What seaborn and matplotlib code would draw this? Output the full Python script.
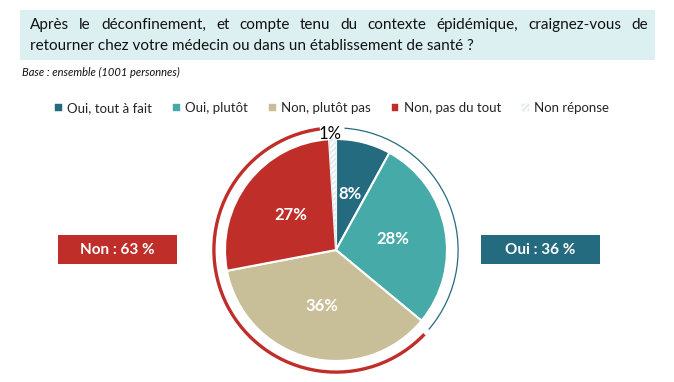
import matplotlib
matplotlib.use("Agg")
import matplotlib.pyplot as plt
from matplotlib.patches import Rectangle, Arc, Patch
import numpy as np
import seaborn as sns

# data
categories = ["Oui, tout à fait", "Oui, plutôt", "Non, plutôt pas", "Non, pas du tout", "Non réponse"]
values = [8, 28, 36, 27, 1]
colors = ["#256B80", "#46AAA9", "#C8BE98", "#C02E2A", "#FFFFFF"]
title_lines = ["Après le déconfinement, et compte tenu du contexte épidémique, craignez-vous de",
               "retourner chez votre médecin ou dans un établissement de santé ?"]
base_note = "Base : ensemble (1001 personnes)"
oui_total = "Oui : 36 %"
non_total = "Non : 63 %"

sns.set_theme(style="white")
plt.rcParams["font.family"] = ["Lato", "DejaVu Sans"]

W, H = 674, 382
fig = plt.figure(figsize=(W / 100, H / 100), dpi=100)

def fx(px):
    return px / W

def fy(py):
    return 1 - py / H

# title box
fig.patches.append(Rectangle((fx(20), fy(60)), fx(635), 50 / H, transform=fig.transFigure,
                             facecolor="#DCF0F2", edgecolor="none", zorder=0))
fig.canvas.draw()
renderer = fig.canvas.get_renderer()

# first line justified between x=30 and x=648
words = title_lines[0].split(" ")
objs = [fig.text(0, fy(25), w, fontsize=11, color="#111111", va="center") for w in words]
widths = [o.get_window_extent(renderer).width for o in objs]
gap = (648 - 30 - sum(widths)) / (len(words) - 1)
x = 30
for o, w in zip(objs, widths):
    o.set_x(fx(x))
    x += w + gap
fig.text(fx(30), fy(46), title_lines[1], fontsize=11, color="#111111", va="center")
fig.text(fx(22), fy(72), base_note, fontsize=8, style="italic", color="#111111", va="center")

# pie: centre (336, 250) px, radius 111 px
r = 111
xl, xh, yl, yh = -1.25, 1.25, -1.15, 1.25
ax = fig.add_axes([fx(336 + xl * r), (H - 250 + yl * r) / H, (xh - xl) * r / W, (yh - yl) * r / H])
wedges, texts, autotexts = ax.pie(values, colors=colors, startangle=90, counterclock=False,
                                  autopct="%d%%", pctdistance=0.52,
                                  wedgeprops=dict(edgecolor="white", linewidth=1.5),
                                  textprops=dict(color="white", fontsize=12, fontweight="bold"))
wedges[-1].set_hatch("//////")
wedges[-1].set_edgecolor("#D8E8EC")
wedges[-1].set_linewidth(0.5)
# 1% label outside
autotexts[-1].set_color("black")
autotexts[-1].set_fontweight("normal")
autotexts[-1].set_fontsize(12)
t1, t2 = wedges[-1].theta1, wedges[-1].theta2
mid = np.deg2rad((t1 + t2) / 2)
autotexts[-1].set_position((1.05 * np.cos(mid) - 0.02, 1.05 * np.sin(mid)))
ax.set_xlim(xl, xh)
ax.set_ylim(yl, yh)
ax.set_aspect("equal")
ax.axis("off")

# outer arcs: Oui (blue, thin) and Non (red, thick)
oui_a = wedges[1].theta1, wedges[0].theta2
non_a = wedges[3].theta1, wedges[2].theta2
ax.add_patch(Arc((0, 0), 2.2, 2.2, theta1=oui_a[0] - 1, theta2=oui_a[1] - 4,
                 color="#256B80", lw=0.9))
ax.add_patch(Arc((0, 0), 2.2, 2.2, theta1=non_a[0] + 4, theta2=non_a[1] + 360 - 4,
                 color="#C02E2A", lw=2.4))

# legend
handles = [Patch(facecolor=c, edgecolor="#D8E8EC" if c == "#FFFFFF" else c,
                 hatch="//////" if c == "#FFFFFF" else None, linewidth=0.3) for c in colors]
fig.legend(handles, categories, loc="center", bbox_to_anchor=(fx(332), fy(108)), ncol=5,
           frameon=False, fontsize=9.5, handlelength=0.5, handleheight=0.5,
           handletextpad=0.4, columnspacing=1.6)

# summary boxes
for x0, txt, col in [(58, non_total, "#C02E2A"), (481, oui_total, "#256B80")]:
    fig.patches.append(Rectangle((fx(x0), fy(264)), fx(119), 29 / H, transform=fig.transFigure,
                                 facecolor=col, edgecolor="none"))
    fig.text(fx(x0 + 59.5), fy(249.5), txt, color="white", fontsize=11, fontweight="bold",
             ha="center", va="center")

fig.savefig("out.png", dpi=100)
